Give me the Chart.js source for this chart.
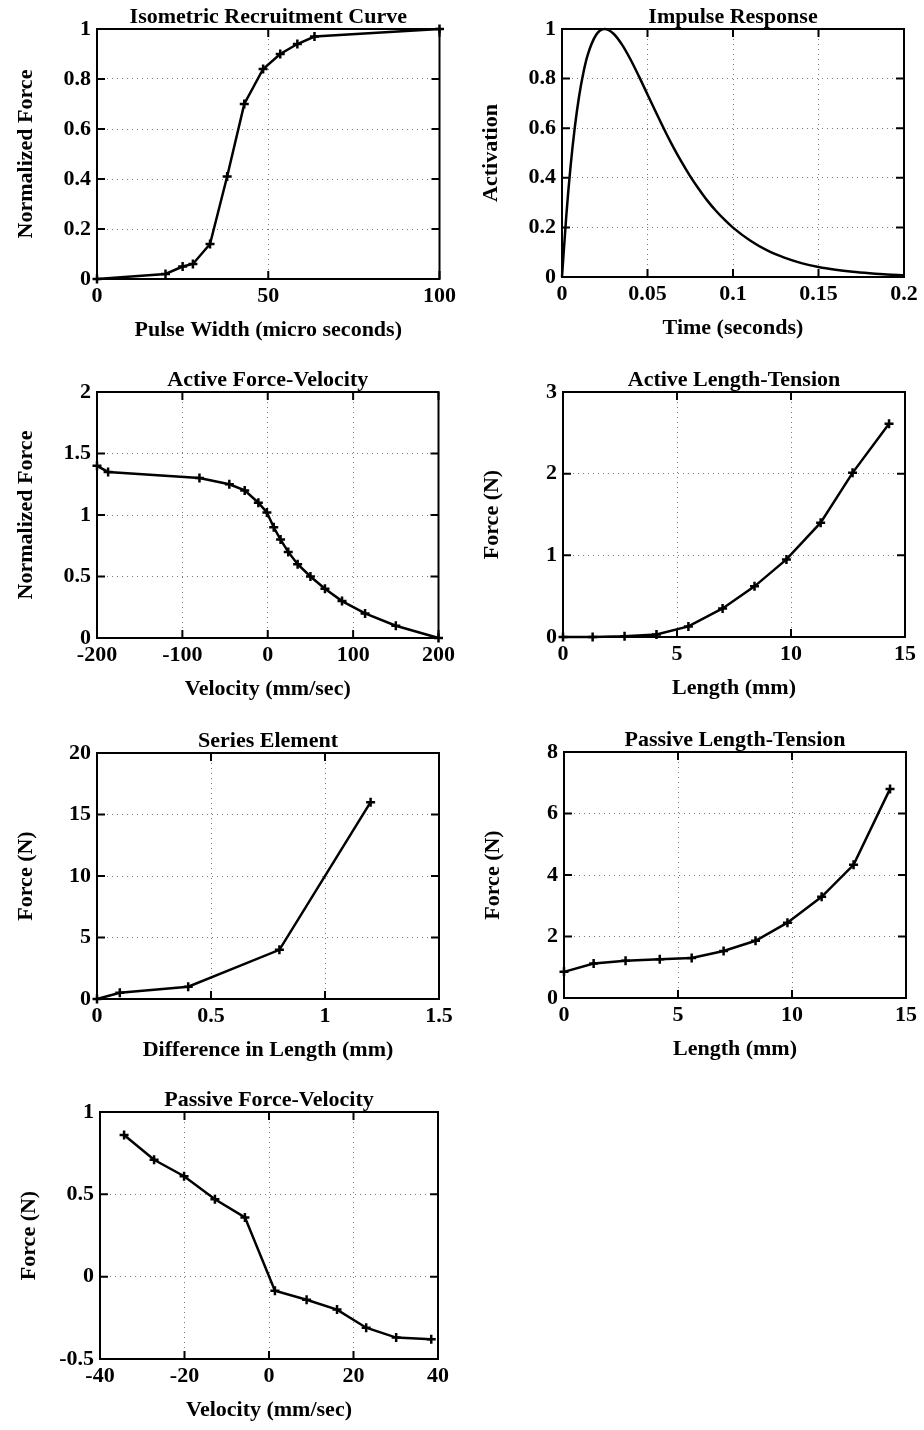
<!DOCTYPE html>
<html>
<head>
<meta charset="utf-8">
<title>Muscle model curves</title>
<script src="https://cdn.jsdelivr.net/npm/chart.js@4.4.0/dist/chart.umd.min.js"></script>
<style>
  html, body { margin: 0; padding: 0; background: #fff; }
  #page { position: relative; width: 924px; height: 1430px; overflow: hidden; background: #fff; }
  #page canvas { position: absolute; }
</style>
</head>
<body>
<div id="page"></div>
<script>
// isometric recruitment
const recruitPulse = [0, 20, 25, 28, 33, 38, 43, 48.5, 53.5, 58.5, 63.5, 100];
const recruitForce = [0, 0.02, 0.05, 0.06, 0.14, 0.41, 0.70, 0.84, 0.90, 0.94, 0.97, 1.0];
const recruitXTicks = [0, 50, 100];
const recruitYTicks = [0, 0.2, 0.4, 0.6, 0.8, 1];

// impulse response (sampled activation curve)
const impulseTime = [0, 0.0025, 0.005, 0.0075, 0.01, 0.0125, 0.015, 0.02, 0.025, 0.03, 0.035, 0.04,
  0.045, 0.05, 0.055, 0.06, 0.065, 0.07, 0.075, 0.08, 0.085, 0.09, 0.095, 0.1, 0.11, 0.12, 0.13,
  0.14, 0.15, 0.16, 0.17, 0.18, 0.19, 0.2];
const impulseAct = [0, 0.246, 0.445, 0.604, 0.729, 0.824, 0.895, 0.977, 1.0, 0.982, 0.938, 0.878,
  0.809, 0.736, 0.663, 0.592, 0.525, 0.463, 0.406, 0.355, 0.308, 0.267, 0.231, 0.199, 0.147, 0.107,
  0.078, 0.056, 0.040, 0.029, 0.021, 0.015, 0.010, 0.007];
const impulseXTicks = [0, 0.05, 0.1, 0.15, 0.2];
const impulseYTicks = [0, 0.2, 0.4, 0.6, 0.8, 1];

// active force-velocity
const afvVelocity = [-200, -187, -80, -45, -27, -11, -1, 7, 15, 24, 35, 50, 67, 87, 114, 150, 200];
const afvForce = [1.4, 1.35, 1.3, 1.25, 1.2, 1.1, 1.02, 0.9, 0.8, 0.7, 0.6, 0.5, 0.4, 0.3, 0.2, 0.1, 0];
const afvXTicks = [-200, -100, 0, 100, 200];
const afvYTicks = [0, 0.5, 1, 1.5, 2];

// active length-tension
const altLength = [0, 1.3, 2.7, 4.1, 5.5, 7.0, 8.4, 9.8, 11.3, 12.7, 14.3];
const altForce = [0, 0, 0.01, 0.03, 0.13, 0.35, 0.62, 0.95, 1.40, 2.01, 2.61];
const altXTicks = [0, 5, 10, 15];
const altYTicks = [0, 1, 2, 3];

// series element
const seriesDiff = [0, 0.1, 0.4, 0.8, 1.2];
const seriesForce = [0, 0.5, 1.0, 4.0, 16.0];
const seriesXTicks = [0, 0.5, 1, 1.5];
const seriesYTicks = [0, 5, 10, 15, 20];

// passive length-tension
const pltLength = [0, 1.3, 2.7, 4.2, 5.6, 7.0, 8.4, 9.8, 11.3, 12.7, 14.3];
const pltForce = [0.85, 1.12, 1.21, 1.26, 1.30, 1.53, 1.86, 2.45, 3.29, 4.33, 6.80];
const pltXTicks = [0, 5, 10, 15];
const pltYTicks = [0, 2, 4, 6, 8];

// passive force-velocity
const pfvVelocity = [-34.3, -27.2, -20.1, -12.8, -5.7, 1.4, 8.9, 16.1, 23.0, 30.1, 38.4];
const pfvForce = [0.86, 0.71, 0.61, 0.47, 0.36, -0.085, -0.14, -0.2, -0.31, -0.37, -0.38];
const pfvXTicks = [-40, -20, 0, 20, 40];
const pfvYTicks = [-0.5, 0, 0.5, 1];

// plot boxes on the page: [left, top, right, bottom]
const panels = [
  { title: 'Isometric Recruitment Curve', xLabel: 'Pulse Width (micro seconds)', yLabel: 'Normalized Force',
    x: recruitPulse, y: recruitForce, xTicks: recruitXTicks, yTicks: recruitYTicks, marks: true, box: [97, 29, 440, 279] },
  { title: 'Impulse Response', xLabel: 'Time (seconds)', yLabel: 'Activation',
    x: impulseTime, y: impulseAct, xTicks: impulseXTicks, yTicks: impulseYTicks, marks: false, box: [562, 29, 904, 277] },
  { title: 'Active Force-Velocity', xLabel: 'Velocity (mm/sec)', yLabel: 'Normalized Force',
    x: afvVelocity, y: afvForce, xTicks: afvXTicks, yTicks: afvYTicks, marks: true, box: [97, 392, 439, 638] },
  { title: 'Active Length-Tension', xLabel: 'Length (mm)', yLabel: 'Force (N)',
    x: altLength, y: altForce, xTicks: altXTicks, yTicks: altYTicks, marks: true, box: [563, 392, 905, 637] },
  { title: 'Series Element', xLabel: 'Difference in Length (mm)', yLabel: 'Force (N)',
    x: seriesDiff, y: seriesForce, xTicks: seriesXTicks, yTicks: seriesYTicks, marks: true, box: [97, 753, 439, 999] },
  { title: 'Passive Length-Tension', xLabel: 'Length (mm)', yLabel: 'Force (N)',
    x: pltLength, y: pltForce, xTicks: pltXTicks, yTicks: pltYTicks, marks: true, box: [564, 752, 906, 998] },
  { title: 'Passive Force-Velocity', xLabel: 'Velocity (mm/sec)', yLabel: 'Force (N)',
    x: pfvVelocity, y: pfvForce, xTicks: pfvXTicks, yTicks: pfvYTicks, marks: true, box: [100, 1112, 438, 1359] }
];

const AXIS_W = 97, TOP = 30, RIGHT = 20, BOTTOM = 70, TICK = 8;
const FAMILY = '"Liberation Serif", "Times New Roman", serif';
const SIZE = 22;

Chart.defaults.font.family = FAMILY;
Chart.defaults.color = '#000';

const fmt = (v) => String(parseFloat(Number(v).toFixed(4)));

// solid box with inward tick marks on all four sides
const boxPlugin = {
  id: 'boxFrame',
  beforeDatasetsDraw(chart) {
    const { ctx, chartArea: a, scales: { x, y } } = chart;
    ctx.save();
    ctx.strokeStyle = '#000';
    ctx.lineWidth = 2;
    ctx.strokeRect(a.left, a.top, a.width, a.height);
    ctx.beginPath();
    x.ticks.forEach(t => {
      const px = x.getPixelForValue(t.value);
      ctx.moveTo(px, a.bottom); ctx.lineTo(px, a.bottom - TICK);
      ctx.moveTo(px, a.top); ctx.lineTo(px, a.top + TICK);
    });
    y.ticks.forEach(t => {
      const py = y.getPixelForValue(t.value);
      ctx.moveTo(a.left, py); ctx.lineTo(a.left + TICK, py);
      ctx.moveTo(a.right, py); ctx.lineTo(a.right - TICK, py);
    });
    ctx.stroke();
    ctx.restore();
  }
};

function axis(ticks, label, horizontal) {
  return {
    type: 'linear',
    min: ticks[0],
    max: ticks[ticks.length - 1],
    afterBuildTicks: (s) => { s.ticks = ticks.map(v => ({ value: v })); },
    afterFit: (s) => { if (horizontal) s.height = BOTTOM; else s.width = AXIS_W; },
    grid: { color: '#7a7a7a', lineWidth: 1, drawTicks: false },
    border: { display: false, dash: [1, 4] },
    ticks: {
      font: { size: SIZE, weight: 'bold', lineHeight: 1.2 },
      color: '#000',
      padding: horizontal ? 4 : 6,
      autoSkip: false,
      maxRotation: 0,
      callback: fmt
    },
    title: {
      display: true,
      text: label,
      color: '#000',
      font: { size: SIZE, weight: 'bold', lineHeight: 1.2 },
      padding: horizontal ? { top: 0, bottom: 5 } : { top: 13, bottom: 0 }
    }
  };
}

const page = document.getElementById('page');

panels.forEach(p => {
  const [L, T, R, B] = p.box;
  const canvas = document.createElement('canvas');
  canvas.width = R - L + AXIS_W + RIGHT;
  canvas.height = B - T + TOP + BOTTOM;
  canvas.style.left = (L - AXIS_W) + 'px';
  canvas.style.top = (T - TOP) + 'px';
  page.appendChild(canvas);

  new Chart(canvas, {
    type: 'line',
    data: {
      datasets: [{
        data: p.x.map((v, i) => ({ x: v, y: p.y[i] })),
        borderColor: '#000',
        borderWidth: 2.5,
        pointStyle: 'cross',
        pointRadius: p.marks ? 4.5 : 0,
        pointBorderWidth: 2.5,
        pointBorderColor: '#000',
        tension: 0,
        cubicInterpolationMode: p.marks ? 'default' : 'monotone',
        clip: false
      }]
    },
    options: {
      responsive: false,
      animation: false,
      events: [],
      layout: { padding: { top: 0, right: RIGHT, bottom: 0, left: 0 } },
      scales: {
        x: axis(p.xTicks, p.xLabel, true),
        y: axis(p.yTicks, p.yLabel, false)
      },
      plugins: {
        legend: { display: false },
        tooltip: { enabled: false },
        title: {
          display: true,
          text: p.title,
          fullSize: false,
          color: '#000',
          font: { size: SIZE, weight: 'bold', lineHeight: 1 },
          padding: { top: 7, bottom: 1 }
        }
      }
    },
    plugins: [boxPlugin]
  });
});
</script>
</body>
</html>
